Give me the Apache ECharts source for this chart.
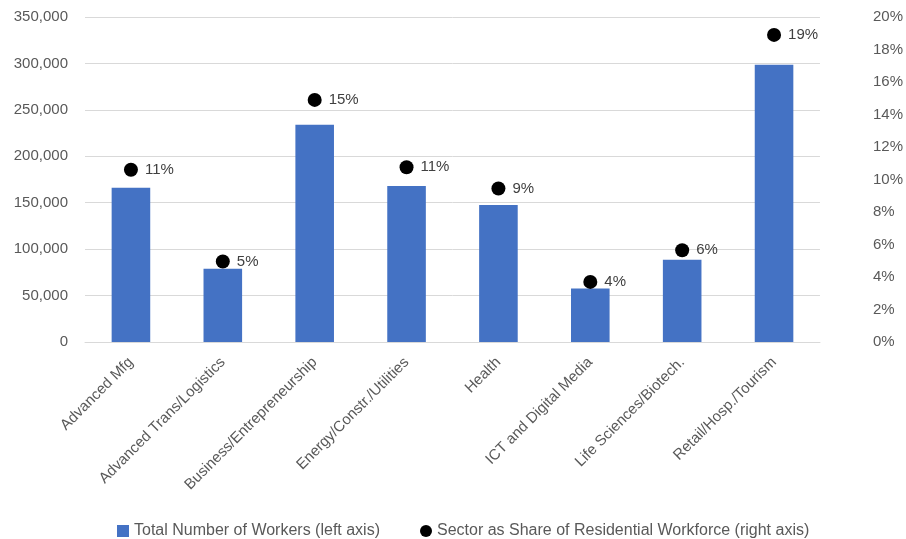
<!DOCTYPE html>
<html><head><meta charset="utf-8">
<script src="https://cdn.jsdelivr.net/npm/echarts@6/dist/echarts.min.js"></script>
<style>html,body{margin:0;padding:0;background:#fff}#c{width:906px;height:539px}</style>
</head><body><div id="c"></div>
<script>
const categories = ["Advanced Mfg","Advanced Trans/Logistics","Business/Entrepreneurship","Energy/Constr./Utilities","Health","ICT and Digital Media","Life Sciences/Biotech.","Retail/Hosp./Tourism"];
const workers = [166000, 79000, 234000, 168000, 147500, 57500, 88500, 298500];
const sharePct = [10.6, 4.95, 14.9, 10.75, 9.45, 3.7, 5.65, 18.9];
const leftTicks = {min:0, max:350000, interval:50000};
const rightTicks = {min:0, max:20, interval:2};
const seriesNames = ["Total Number of Workers (left axis)", "Sector as Share of Residential Workforce (right axis)"];

const font = "'Liberation Sans', Arial, sans-serif";
const chart = echarts.init(document.getElementById('c'));
chart.setOption({
  animation:false,
  textStyle:{fontFamily:font},
  grid:{left:85, right:84, top:17, bottom:197},
  legend:{
    top:518, left:112, itemGap:40, itemWidth:12, itemHeight:12,
    textStyle:{fontFamily:font, fontSize:16, color:'#595959'},
    data:[{name:seriesNames[0], icon:'rect'},{name:seriesNames[1], icon:'circle', itemStyle:{color:'#000', opacity:1}}]
  },
  xAxis:{
    type:'category', data:categories,
    axisLine:{lineStyle:{color:'#d9d9d9', width:1}},
    axisTick:{show:false},
    axisLabel:{rotate:45, fontSize:15, color:'#595959', margin:18, fontFamily:font, interval:0}
  },
  yAxis:[{
    type:'value', min:leftTicks.min, max:leftTicks.max, interval:leftTicks.interval,
    axisLine:{show:false}, axisTick:{show:false},
    splitLine:{lineStyle:{color:'#d9d9d9', width:1}},
    axisLabel:{fontSize:15, color:'#595959', margin:17, fontFamily:font,
      formatter:v=>v.toLocaleString('en-US')}
  },{
    type:'value', min:rightTicks.min, max:rightTicks.max, interval:rightTicks.interval,
    axisLine:{show:false}, axisTick:{show:false}, splitLine:{show:false},
    axisLabel:{fontSize:15, color:'#595959', margin:53, fontFamily:font, align:'left',
      formatter:v=>v+'%'}
  }],
  series:[{
    name:seriesNames[0], type:'bar', data:workers, barWidth:'42%',
    itemStyle:{color:'#4472C4'}
  },{
    name:seriesNames[1], type:'scatter', yAxisIndex:1, data:sharePct,
    symbol:'circle', symbolSize:14, itemStyle:{color:'#000', opacity:1},
    label:{show:true, position:'right', distance:7, fontSize:15, color:'#404040', fontFamily:font,
      formatter:p=>Math.round(p.value)+'%'}
  }]
});
</script></body></html>
